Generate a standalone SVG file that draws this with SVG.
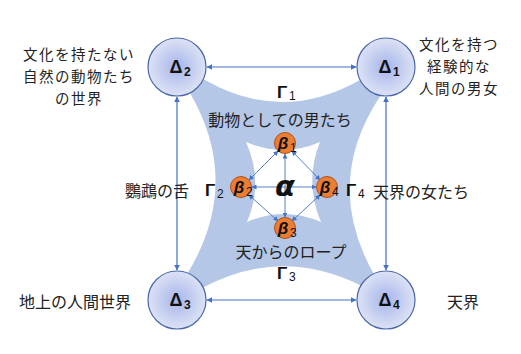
<svg xmlns="http://www.w3.org/2000/svg" width="521" height="354" viewBox="0 0 521 354">
<defs>
<radialGradient id="gD" cx="50%" cy="50%" r="50%">
<stop offset="0" stop-color="#A6B5EA"/>
<stop offset="1" stop-color="#DCE2F5"/>
</radialGradient>
<marker id="ah" viewBox="0 0 10 10" refX="9" refY="5" markerWidth="6" markerHeight="6" markerUnits="userSpaceOnUse" orient="auto-start-reverse">
<path d="M0,0 L10,5 L0,10 Z" fill="#4472C4"/>
</marker>
<marker id="ahs" viewBox="0 0 10 10" refX="9" refY="5" markerWidth="5" markerHeight="5" markerUnits="userSpaceOnUse" orient="auto-start-reverse">
<path d="M0,0 L10,5 L0,10 Z" fill="#4472C4"/>
</marker>
</defs>
<style>
.jp{font-family:"Noto Sans CJK JP","Noto Sans",sans-serif;font-size:16px;fill:#222}
.jm{font-family:"Noto Sans CJK JP","Noto Sans",sans-serif;font-size:14.5px;letter-spacing:1.5px;fill:#222}
.gk{font-family:"Liberation Sans",Arial,sans-serif;font-weight:bold;fill:#111}
.sub{font-family:"Liberation Sans",Arial,sans-serif;font-size:12px;fill:#111}
.big{fill:url(#gD);stroke:#4A68A8;stroke-width:1.2}
.beta{fill:#ED7D31;stroke:#A9561F;stroke-width:1}
.bl{font-family:"Liberation Sans",Arial,sans-serif;font-weight:bold;font-style:italic;font-size:17px;fill:#111}
.con{stroke:#4472C4;stroke-width:1.2;fill:none;marker-start:url(#ah);marker-end:url(#ah)}
.cs{stroke:#4472C4;stroke-width:0.9;fill:none;marker-start:url(#ahs);marker-end:url(#ahs)}
</style>
<rect width="521" height="354" fill="#fff"/>
<g id="band">
<path fill="#B4C7E7" fill-rule="evenodd" d="M177,67 L205,80 Q282,124 360,80 L386,67 L381,95 Q321,184 376,278 L386,300 L362,286 Q282,246 204,287 L177,300 L186,276 Q243,184 190,93 Z M246,142 Q283,158 320,142 Q304,182 321,222 Q284,206 247,222 Q264,182 246,142 Z"/>
</g>
<g id="connectors">
<line class="con" x1="207" y1="67" x2="356" y2="67"/>
<line class="con" x1="207" y1="300" x2="356" y2="300"/>
<line class="con" x1="177" y1="97" x2="177" y2="270"/>
<line class="con" x1="386" y1="97" x2="386" y2="270"/>
<line class="cs" x1="285" y1="154" x2="285" y2="217"/>
<line class="cs" x1="252" y1="187" x2="316" y2="187"/>
<line class="cs" x1="278" y1="151" x2="249" y2="180"/>
<line class="cs" x1="292" y1="151" x2="320" y2="180"/>
<line class="cs" x1="249" y1="195" x2="278" y2="221"/>
<line class="cs" x1="320" y1="195" x2="292" y2="221"/>
</g>
<g id="D2"><circle class="big" cx="177" cy="67" r="29"/><text class="gk" x="176" y="73" font-size="18" text-anchor="middle">Δ</text><text class="sub" x="184" y="76" font-weight="bold">2</text></g>
<g id="D1"><circle class="big" cx="386" cy="67" r="29"/><text class="gk" x="385" y="73" font-size="18" text-anchor="middle">Δ</text><text class="sub" x="393" y="76" font-weight="bold">1</text></g>
<g id="D3"><circle class="big" cx="177" cy="300" r="29"/><text class="gk" x="176" y="306" font-size="18" text-anchor="middle">Δ</text><text class="sub" x="184" y="309" font-weight="bold">3</text></g>
<g id="D4"><circle class="big" cx="386" cy="300" r="29"/><text class="gk" x="385" y="306" font-size="18" text-anchor="middle">Δ</text><text class="sub" x="393" y="309" font-weight="bold">4</text></g>
<g id="alpha"><text x="285" y="196" font-family="'DejaVu Sans',sans-serif" font-weight="bold" font-style="italic" font-size="29" fill="#111" text-anchor="middle">α</text></g>
<g id="b1"><circle class="beta" cx="285" cy="143" r="10.5"/><text class="bl" x="283" y="149" text-anchor="middle">β</text><text class="sub" x="290" y="152">1</text></g>
<g id="b2"><circle class="beta" cx="241" cy="187" r="10.5"/><text class="bl" x="239" y="193" text-anchor="middle">β</text><text class="sub" x="246" y="196">2</text></g>
<g id="b4"><circle class="beta" cx="327" cy="187" r="10.5"/><text class="bl" x="325" y="193" text-anchor="middle">β</text><text class="sub" x="332" y="196">4</text></g>
<g id="b3"><circle class="beta" cx="285" cy="228" r="10.5"/><text class="bl" x="283" y="234" text-anchor="middle">β</text><text class="sub" x="290" y="237">3</text></g>
<g id="gammas">
<text class="gk" x="277" y="98" font-size="17">Γ</text><text class="sub" x="289" y="100">1</text>
<text class="gk" x="205" y="196" font-size="17">Γ</text><text class="sub" x="217" y="198">2</text>
<text class="gk" x="277" y="279" font-size="17">Γ</text><text class="sub" x="289" y="281">3</text>
<text class="gk" x="346" y="196" font-size="17">Γ</text><text class="sub" x="358" y="198">4</text>
</g>
<g id="labels">
<text class="jm" text-anchor="middle" x="79" y="60">文化を持たない</text>
<text class="jm" text-anchor="middle" x="79" y="82">自然の動物たち</text>
<text class="jm" text-anchor="middle" x="79" y="104">の世界</text>
<text class="jm" text-anchor="middle" x="459" y="50">文化を持つ</text>
<text class="jm" text-anchor="middle" x="459" y="72">経験的な</text>
<text class="jm" text-anchor="middle" x="459" y="94">人間の男女</text>
<text class="jp" text-anchor="middle" x="75" y="308">地上の人間世界</text>
<text class="jp" text-anchor="middle" x="463" y="308">天界</text>
<text class="jp" text-anchor="middle" x="157" y="197">鸚鵡の舌</text>
<text class="jp" x="373" y="198">天界の女たち</text>
<text class="jp" text-anchor="middle" x="280" y="126">動物としての男たち</text>
<text class="jp" text-anchor="middle" x="291" y="258">天からのロープ</text>
</g>
</svg>
